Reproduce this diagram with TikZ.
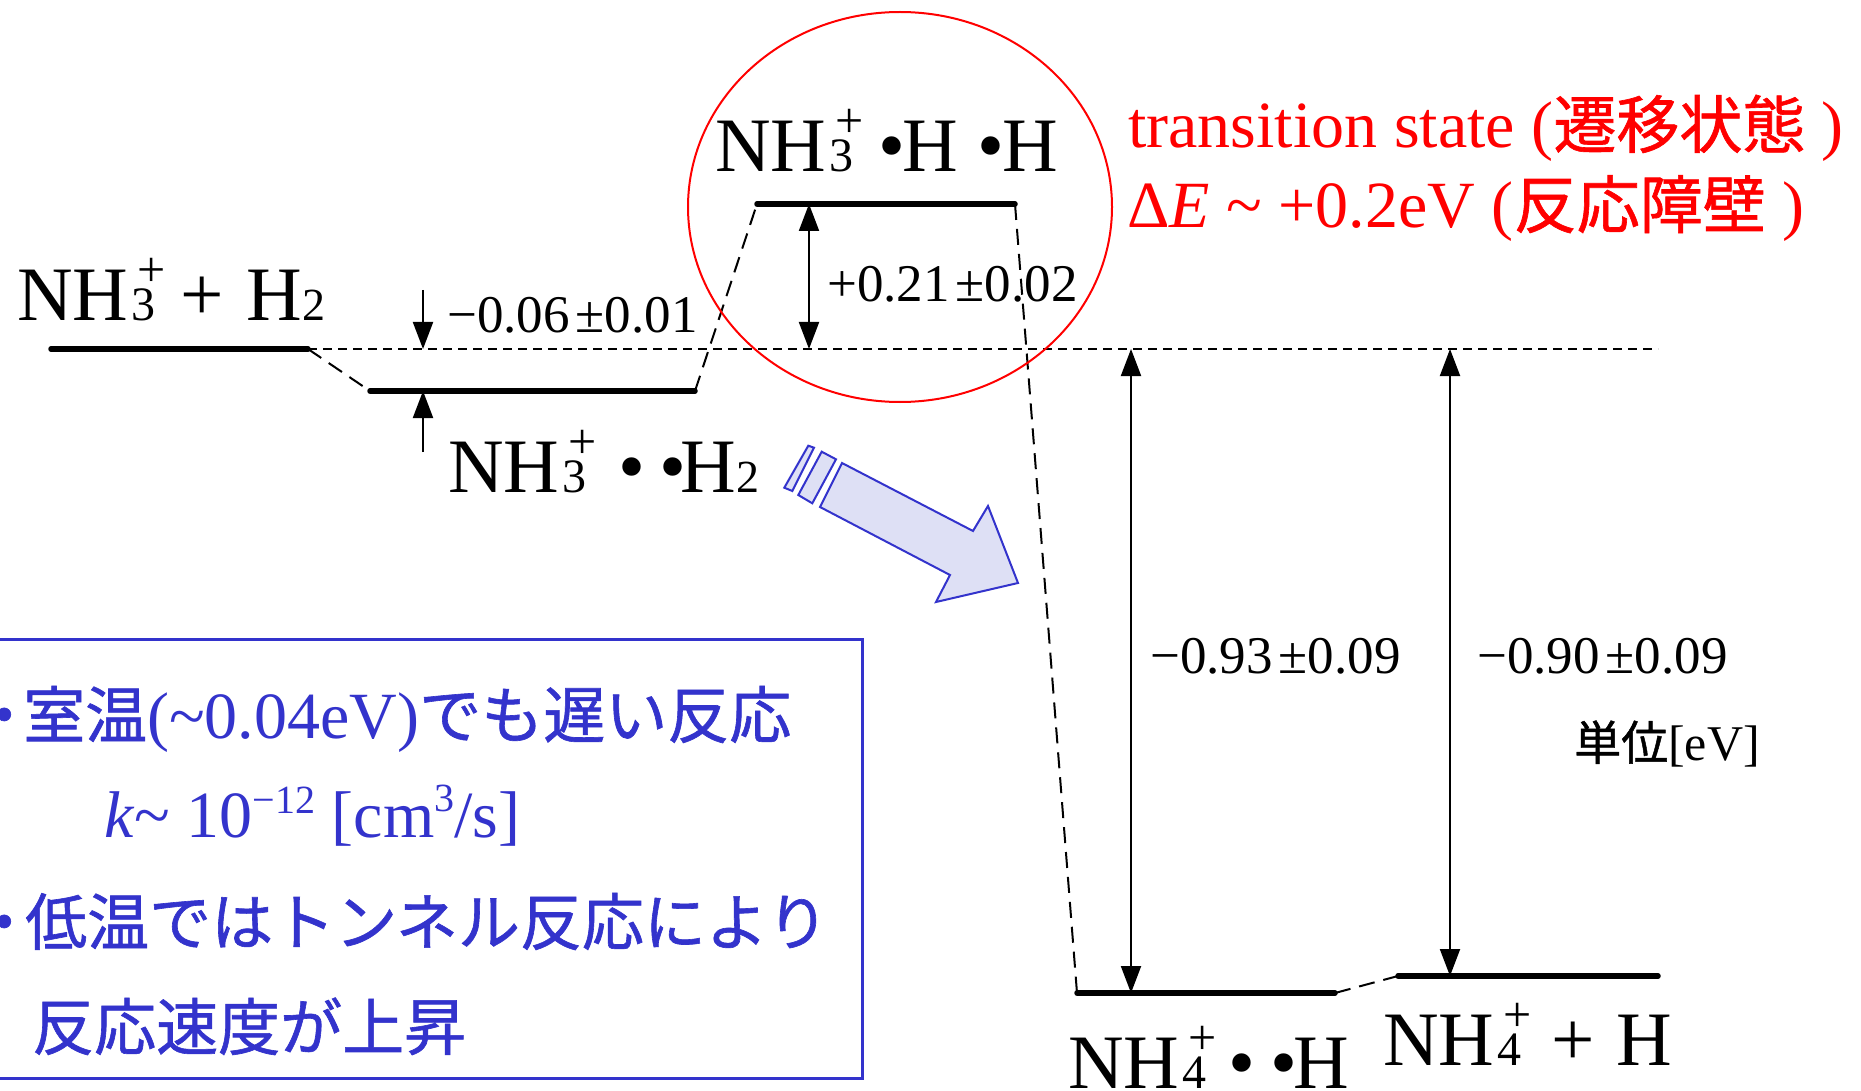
\documentclass[tikz,border=0pt]{standalone}
\usepackage{fontspec}
\setmainfont{Liberation Serif}
\newfontfamily\jp[FakeBold=1]{Noto Sans CJK JP}
\usetikzlibrary{arrows.meta}
\definecolor{myblue}{RGB}{51,51,204}
\definecolor{myfill}{RGB}{222,224,245}
\definecolor{myred}{RGB}{255,0,0}
\newcommand\fs[1]{\fontsize{#1}{#1}\selectfont}
\newcommand\ionst[2]{\kern3pt\makebox[0pt][l]{\hspace{6pt}\raisebox{34pt}{\fs{50}#2}}{\fs{48}#1}}
\newcommand\sbs[1]{{\fs{46}#1}}
\tikzset{
  x=1pt, y=-1pt,
  level/.style={line width=5.5pt, line cap=round},
  conn/.style={line width=2pt, dash pattern=on 16pt off 9pt},
  refline/.style={line width=1.5pt, dash pattern=on 9pt off 6pt},
  dimboth/.style={line width=2pt, {Triangle[length=27pt,width=20pt]}-{Triangle[length=27pt,width=20pt]}},
  dimone/.style={line width=2pt, -{Triangle[length=27pt,width=20pt]}},
  chem/.style={anchor=base west, inner sep=0pt, font=\fs{77}},
  num/.style={anchor=base west, inner sep=0pt, font=\fs{53}},
  redtxt/.style={anchor=base west, inner sep=0pt, text=myred, font=\fs{66}},
  bluetxt/.style={anchor=base west, inner sep=0pt, text=myblue, font=\fs{66}},
  bigarrow/.style={draw=myblue, fill=myfill, line width=2pt, line join=miter},
}
\begin{document}
\begin{tikzpicture}
\useasboundingbox (0,0) rectangle (1861,1091);
\clip (0,0) rectangle (1861,1091);
\fill[white] (0,0) rectangle (1861,1091);

% level end points
\coordinate (A1) at (51,349);  \coordinate (A2) at (308,349);
\coordinate (B1) at (370,391); \coordinate (B2) at (695,391);
\coordinate (T1) at (757,204); \coordinate (T2) at (1015,204);
\coordinate (C1) at (1077,993);\coordinate (C2) at (1335,993);
\coordinate (D1) at (1398,976);\coordinate (D2) at (1658,976);
\coordinate (R2) at (1658,349);

% reference line and connectors
\draw[refline] (A2) -- (R2);
\draw[conn] (A2) -- (B1);
\draw[conn] (B2) -- (T1);
\draw[conn] (T2) -- (C1);
\draw[conn] (C2) -- (D1);

% levels
\draw[level] (A1) -- (A2);
\draw[level] (B1) -- (B2);
\draw[level] (T1) -- (T2);
\draw[level] (C1) -- (C2);
\draw[level] (D1) -- (D2);

% dimension arrows
\coordinate (a1s) at (423,290); \coordinate (a1e) at (423,349);
\coordinate (a2s) at (423,452); \coordinate (a2e) at (423,391);
\draw[dimone] (a1s) -- (a1e);
\draw[dimone] (a2s) -- (a2e);
\coordinate (t1) at (809,204); \coordinate (t2) at (809,349);
\draw[dimboth] (t1) -- (t2);
\coordinate (c1) at (1131,349); \coordinate (c2) at (1131,993);
\draw[dimboth] (c1) -- (c2);
\coordinate (d1) at (1450,349); \coordinate (d2) at (1450,976);
\draw[dimboth] (d1) -- (d2);

% transition-state ellipse
\draw[myred, line width=2pt] (900,207) ellipse [x radius=212, y radius=195];

% chemical labels
\node[chem] (labA) at (17,320) {NH\ionst{3}{+}\kern25pt+\kern23pt H\sbs{2}};
\node[chem] (labB) at (448,492) {NH\ionst{3}{+} \kern13pt•\kern14pt•\kern-6pt H\sbs{2}};
\node[chem] (labT) at (715,172) {NH\ionst{3}{+} \kern6pt•\kern-3pt H \kern0pt•\kern-2pt H};
\node[chem] (labC) at (1068,1088) {NH\ionst{4}{+} \kern3pt•\kern15pt•\kern-4pt H};
\node[chem] (labD) at (1383,1065) {NH\ionst{4}{+}\kern30pt+\kern22pt H};

% numeric labels
\node[num] (n006) at (447,333) {−0.06\kern6pt±0.01};
\node[num] (n021) at (827,302) {+0.21\kern6pt±0.02};
\node[num] (n093) at (1150,673) {−0.93\kern6pt±0.09};
\node[num] (n090) at (1477,673) {−0.90\kern6pt±0.09};
\node[anchor=base west, inner sep=0pt, font=\fs{50}] (unit) at (1574,760) {{\jp\fs{47}単位}[eV]};

% red annotation
\node[redtxt] (red1) at (1128,148) {transition state ({\jp\fs{63}遷移状態} )};
\node[redtxt] (red2) at (1127,228) {Δ\textit{E} {\char126} +0.2eV ({\jp\fs{63}反応障壁} )};

% big blue arrow
\draw[bigarrow] (842,463) -- (973,531) -- (988,506) -- (1018,583) -- (936,602) -- (950,575) -- (820,507) -- cycle;
\draw[bigarrow] (821.7,451.7) -- (836,459.3) -- (812.3,503.3) -- (798.3,495) -- cycle;
\draw[bigarrow] (808.3,445.7) -- (814,447.7) -- (792.3,491) -- (784.3,487.7) -- cycle;

% blue box
\draw[myblue, line width=3pt] (-20,639) rectangle (862,1078);
\node[bluetxt] (b1) at (-27,738) {{\jp\fs{62}・}\kern-12pt{\jp\fs{62}室温}({\char126}0.04eV){\jp\fs{62}でも遅い反応}};
\node[bluetxt] (b2) at (104,837) {\textit{k}{\char126} 10\raisebox{24pt}{\fs{40}−12} [cm\raisebox{26pt}{\fs{40}3}/s]};
\node[bluetxt] (b3) at (-27,945) {{\jp\fs{62}・}\kern-10pt{\jp\fs{62}低温ではトンネル反応により}};
\node[bluetxt] (b4) at (32,1050) {{\jp\fs{62}反応速度が上昇}};
\end{tikzpicture}
\end{document}
